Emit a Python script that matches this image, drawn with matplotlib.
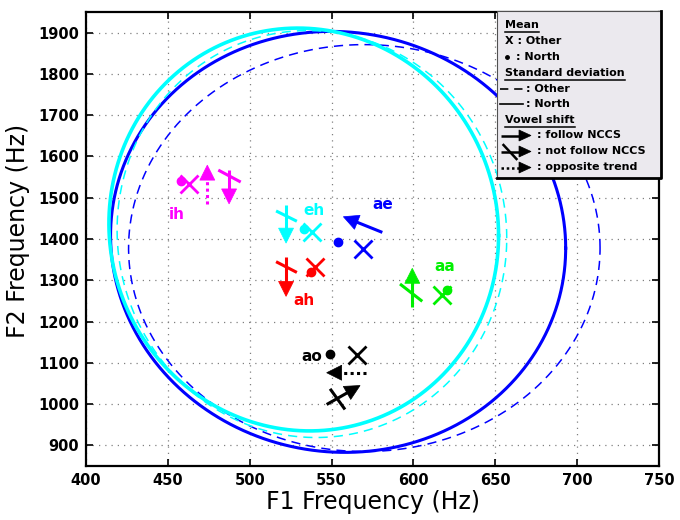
import numpy as np
import matplotlib
matplotlib.use("Agg")
import matplotlib.pyplot as plt
from matplotlib.patches import Rectangle, Polygon

plt.rcParams['font.family'] = ['DejaVu Sans']

# -----------------------------
# Data (F1, F2 in Hz)
# -----------------------------
vowels = ["ih", "eh", "ae", "ah", "aa", "ao"]
colors = ["#ff00ff", "#00ffff", "#0000ff", "#ff0000", "#00f000", "#000000"]

north_f1 = [457.8, 533.2, 554.0, 537.4, 620.3, 549.0]
north_f2 = [1541, 1424, 1392, 1320, 1277, 1122]
other_f1 = [462.9, 537.9, 569.4, 539.9, 617.2, 565.4]
other_f2 = [1534, 1416, 1376, 1333, 1265, 1120]

label_f1 = [455.4, 539.5, 581.0, 533.0, 619.0, 537.9]
label_f2 = [1459, 1470, 1484, 1251, 1333, 1116]

# vowel shift arrows: vowel index, kind, tail, tip
shift_vowel = [0, 0, 1, 2, 3, 4, 5, 5]
shift_kind = ["opposite", "not", "not", "follow", "not", "not", "opposite", "not"]
shift_tail_f1 = [474.1, 487.4, 522.2, 581.0, 522.2, 599.3, 571.0, 547.0]
shift_tail_f2 = [1486, 1566, 1482, 1416, 1356, 1236, 1076, 999]
shift_tip_f1 = [474.1, 487.4, 522.2, 557.2, 522.2, 599.3, 547.0, 567.4]
shift_tip_f2 = [1579, 1485, 1390, 1454, 1261, 1329, 1076, 1045]

# slash across "not follow NCCS" arrows (same order as the "not" arrows)
cross_f1a = [480.8, 516.1, 516.1, 591.8, 549.1]
cross_f2a = [1567, 1468, 1345, 1291, 1037]
cross_f1b = [494.5, 528.8, 528.8, 605.4, 558.2]
cross_f2b = [1538, 1443, 1319, 1249, 987]

# standard deviation contours: centre, half-width, half-height, correlation
sd_names = ["blue_north", "blue_other", "cyan_north", "cyan_other"]
sd_cf1 = [554, 570, 533, 538]
sd_cf2 = [1393, 1378, 1423, 1412]
sd_rf1 = [139, 144, 119, 119]
sd_rf2 = [510, 493, 488, 493]
sd_rho = [-0.03, 0.0, -0.03, -0.02]
sd_color = ["#0000ff", "#0000ff", "#00ffff", "#00ffff"]
sd_style = ["-", "--", "-", "--"]
sd_lw = [2.2, 1.1, 2.6, 1.1]

# -----------------------------
# Figure
# -----------------------------
fig = plt.figure(figsize=(6.8, 5.2), dpi=100)
ax = fig.add_axes([86 / 680, 1 - 466 / 520, 573 / 680, 454 / 520])
ax.set_xlim(400, 750)
ax.set_ylim(850, 1950)


def draw_arrow(a, tail, tip, color, kind, L=15, W=7.5, lw=2.2):
    # head size in pixels, computed in display space
    T = a.transData
    p0 = T.transform(tail)
    p1 = T.transform(tip)
    d = p1 - p0
    u = d / np.hypot(d[0], d[1])
    n = np.array([-u[1], u[0]])
    base = p1 - u * L
    tri = np.array([p1, base + n * W, base - n * W])
    inv = T.inverted()
    tri_d = inv.transform(tri)
    base_d = inv.transform(base + u * 1.0)
    if kind == "opposite":
        a.plot([tail[0], base_d[0]], [tail[1], base_d[1]], color=color, lw=lw,
               linestyle=(0, (1, 1.1)), dash_capstyle="butt", zorder=4)
    else:
        a.plot([tail[0], base_d[0]], [tail[1], base_d[1]], color=color, lw=lw,
               solid_capstyle="butt", zorder=4)
    a.add_patch(Polygon(tri_d, closed=True, facecolor=color, edgecolor=color,
                        lw=0.5, zorder=4))


t = np.linspace(0, 2 * np.pi, 400)
for i in range(len(sd_names)):
    x = sd_cf1[i] + sd_rf1[i] * np.cos(t)
    y = sd_cf2[i] + sd_rf2[i] * (sd_rho[i] * np.cos(t) + np.sqrt(1 - sd_rho[i] ** 2) * np.sin(t))
    if sd_style[i] == "--":
        ax.plot(x, y, color=sd_color[i], lw=sd_lw[i], dashes=(6, 4), zorder=2)
    else:
        ax.plot(x, y, color=sd_color[i], lw=sd_lw[i], zorder=2)

# means
for i, v in enumerate(vowels):
    ax.plot(north_f1[i], north_f2[i], "o", color=colors[i], ms=6, zorder=4)
    ax.plot(other_f1[i], other_f2[i], "x", color=colors[i], ms=13, mew=2, zorder=4)
    ax.text(label_f1[i], label_f2[i], v, color=colors[i], fontsize=11,
            fontweight="bold", ha="center", va="center", zorder=5)

k = 0
for j in range(len(shift_kind)):
    c = colors[shift_vowel[j]]
    draw_arrow(ax, (shift_tail_f1[j], shift_tail_f2[j]),
               (shift_tip_f1[j], shift_tip_f2[j]), c, shift_kind[j])
    if shift_kind[j] == "not":
        ax.plot([cross_f1a[k], cross_f1b[k]], [cross_f2a[k], cross_f2b[k]],
                color=c, lw=2.2, solid_capstyle="butt", zorder=4)
        k += 1

ax.set_xticks(np.arange(400, 751, 50))
ax.set_yticks(np.arange(900, 1901, 100))
ax.grid(True, linestyle=(0, (1, 4)), color="#808080", lw=0.9)
ax.tick_params(direction="in", top=True, right=True, length=5, width=1.2,
               labelsize=10.5, pad=5)
for lab in ax.get_xticklabels() + ax.get_yticklabels():
    lab.set_fontweight("bold")
for s in ax.spines.values():
    s.set_linewidth(1.6)

ax.set_xlabel("F1 Frequency (Hz)", fontsize=17)
ax.set_ylabel("F2 Frequency (Hz)", fontsize=17)
ax.xaxis.set_label_coords(0.5, -0.053)
ax.yaxis.set_label_coords(-0.098, 0.518)

# -----------------------------
# Legend box (pixel coordinates)
# -----------------------------
lg = fig.add_axes([0, 0, 1, 1])
lg.set_xlim(0, 680)
lg.set_ylim(520, 0)
lg.axis("off")

lg.add_patch(Rectangle((497, 11), 164, 167, facecolor="#ebe9ee",
                       edgecolor="#505050", lw=0.8))
lg.plot([661, 661, 497], [11, 178, 178], color="black", lw=2)

fs = 8
renderer = fig.canvas.get_renderer()


def head(txt, y):
    tt = lg.text(505, y, txt, fontsize=fs, fontweight="bold", va="center", ha="left")
    bb = tt.get_window_extent(renderer=renderer)
    yb = 520 - bb.y0 + 1.5
    lg.plot([bb.x0, bb.x1], [yb, yb], color="black", lw=1.1)


head("Mean", 25)
lg.text(505, 41, "X : Other", fontsize=fs, fontweight="bold", va="center")
lg.plot(506.5, 57, "o", color="black", ms=2.5)
lg.text(516, 57, ": North", fontsize=fs, fontweight="bold", va="center")
head("Standard deviation", 73)
lg.plot([500, 523], [88.5, 88.5], color="black", lw=1.2, dashes=(5, 3.5))
lg.text(526, 88.5, ": Other", fontsize=fs, fontweight="bold", va="center")
lg.plot([500, 523], [104, 104], color="black", lw=1.2)
lg.text(526, 104, ": North", fontsize=fs, fontweight="bold", va="center")
head("Vowel shift", 120)
draw_arrow(lg, (501, 135.5), (531, 135.5), "black", "follow", L=12, W=5.5, lw=1.8)
lg.text(537, 135.5, ": follow NCCS", fontsize=fs, fontweight="bold", va="center")
draw_arrow(lg, (501, 151.5), (531, 151.5), "black", "not", L=12, W=5.5, lw=1.8)
lg.plot([503.5, 516.5], [145, 159], color="black", lw=1.8)
lg.text(537, 151.5, ": not follow NCCS", fontsize=fs, fontweight="bold", va="center")
draw_arrow(lg, (501, 167.5), (531, 167.5), "black", "opposite", L=12, W=5.5, lw=1.8)
lg.text(537, 167.5, ": opposite trend", fontsize=fs, fontweight="bold", va="center")

fig.savefig("out.png", dpi=100)
